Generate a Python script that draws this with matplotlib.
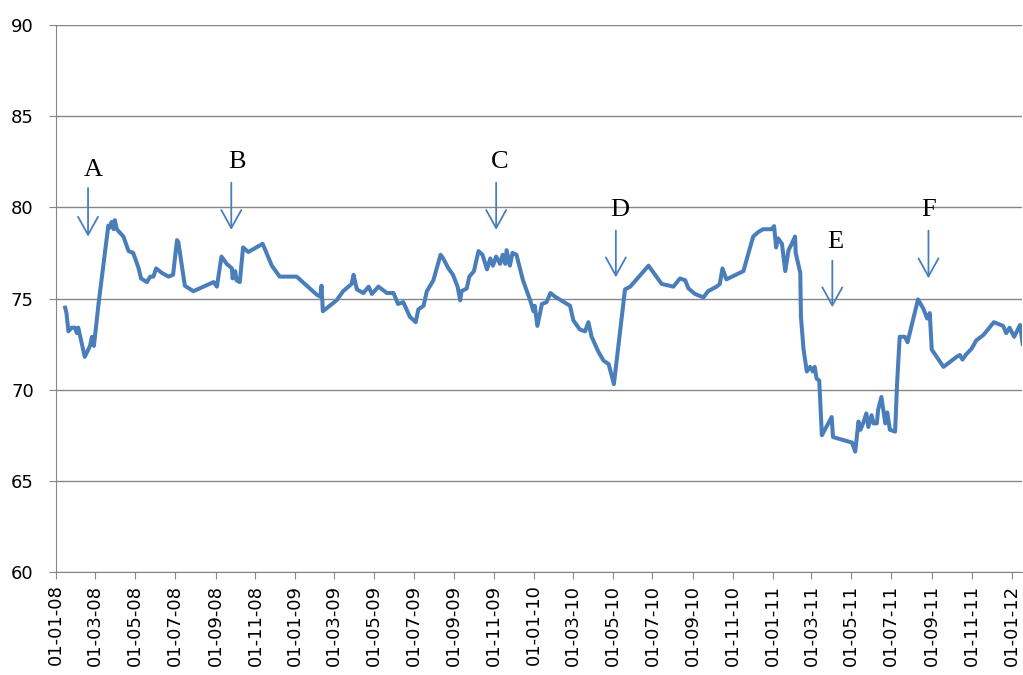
import pandas as pd
import matplotlib
matplotlib.use("Agg")
import matplotlib.pyplot as plt
import matplotlib.dates as mdates

# series (days counted from 01-01-2008)
days_since_2008 = [
    14, 16, 19, 24, 29, 32, 34, 44, 52, 55, 58, 65, 80, 83, 85, 88, 90, 93,
    103, 111, 118, 126, 130, 139, 144, 149, 153, 162, 172, 179, 185, 187, 197,
    210, 241, 246, 253, 261, 269, 270, 274, 276, 281, 286, 294, 316, 330, 342,
    368, 399, 404, 406, 408, 429, 439, 452, 455, 460, 470, 478, 483, 493, 506,
    516, 523, 531, 541, 550, 554, 562, 567, 577, 588, 592, 600, 607, 614, 618,
    620, 628, 632, 639, 646, 652, 659, 664, 668, 673, 679, 683, 687, 689, 694,
    698, 704, 714, 725, 730, 732, 736, 743, 750, 756, 763, 786, 791, 801, 809,
    814, 819, 829, 837, 845, 853, 870, 878, 906, 918, 926, 944, 954, 962, 967,
    977, 990, 997, 1010, 1015, 1019, 1025, 1051, 1066, 1074, 1081, 1094, 1098,
    1101, 1104, 1110, 1115, 1120, 1125, 1130, 1131, 1138, 1139, 1143, 1148,
    1153, 1157, 1160, 1163, 1167, 1171, 1186, 1188, 1217, 1222, 1227, 1230,
    1234, 1239, 1242, 1247, 1250, 1255, 1257, 1262, 1268, 1271, 1275, 1283,
    1286, 1290, 1298, 1302, 1318, 1326, 1332, 1336, 1339, 1357, 1377, 1382,
    1386, 1392, 1400, 1407, 1418, 1434, 1448, 1453, 1458, 1465, 1474, 1478,
]
values = [
    74.5, 74.2, 73.2, 73.4, 73.4, 73.1, 73.4, 71.8, 72.4, 72.9, 72.4, 74.7,
    79.0, 78.9, 79.2, 78.8, 79.3, 78.8, 78.4, 77.6, 77.5, 76.7, 76.1, 75.9,
    76.2, 76.2, 76.65, 76.4, 76.2, 76.3, 78.2, 78.1, 75.7, 75.4, 75.9, 75.65,
    77.3, 76.9, 76.65, 76.1, 76.5, 76.0, 75.9, 77.8, 77.55, 78.0, 76.8, 76.2,
    76.2, 75.2, 75.1, 75.7, 74.3, 74.9, 75.4, 75.8, 76.3, 75.5, 75.3, 75.65,
    75.25, 75.65, 75.3, 75.3, 74.7, 74.8, 74.0, 73.7, 74.4, 74.6, 75.4, 76.0,
    77.4, 77.2, 76.65, 76.3, 75.65, 74.9, 75.4, 75.55, 76.2, 76.5, 77.6, 77.4,
    76.6, 77.2, 76.8, 77.3, 76.9, 77.4, 76.9, 77.65, 76.8, 77.5, 77.4, 76.0,
    74.9, 74.3, 74.6, 73.5, 74.7, 74.8, 75.3, 75.1, 74.6, 73.8, 73.3, 73.2,
    73.7, 72.9, 72.1, 71.6, 71.4, 70.3, 75.5, 75.65, 76.8, 76.2, 75.8, 75.65,
    76.1, 76.0, 75.55, 75.25, 75.06, 75.4, 75.65, 75.8, 76.65, 76.05, 76.5,
    78.4, 78.65, 78.8, 78.8, 78.97, 77.8, 78.3, 78.0, 76.5, 77.65, 78.0, 78.4,
    77.5, 76.4, 74.0, 72.2, 71.0, 71.25, 71.0, 71.25, 70.6, 70.5, 67.5, 68.5,
    67.4, 67.1, 66.6, 68.25, 67.8, 68.15, 68.7, 67.95, 68.6, 68.15, 68.15,
    68.9, 69.6, 68.15, 68.75, 67.8, 67.7, 70.35, 72.9, 72.9, 72.6, 74.95,
    74.45, 73.9, 74.2, 72.2, 71.25, 71.8, 71.9, 71.65, 71.95, 72.25, 72.7,
    73.0, 73.7, 73.5, 73.1, 73.4, 72.9, 73.55, 72.5,
]

# event markers
event_labels = ["A", "B", "C", "D", "E", "F"]
event_dates = ["2008-02-19", "2008-09-25", "2009-11-04", "2010-05-06", "2011-04-02", "2011-08-27"]
label_dates = ["2008-02-27", "2008-10-03", "2009-11-10", "2010-05-12", "2011-04-07", "2011-08-27"]
arrow_top = [81.06, 81.35, 81.35, 78.72, 77.07, 78.72]
arrow_tip = [78.39, 78.76, 78.76, 76.16, 74.52, 76.11]
label_y = [82.05, 82.5, 82.5, 79.85, 78.11, 79.85]

start = pd.Timestamp("2008-01-01")
dates = start + pd.to_timedelta(days_since_2008, unit="D")

grid_col = "#868686"
line_col = "#4a7ebb"

fig = plt.figure(figsize=(10.23, 6.75), dpi=100)
ax = fig.add_axes([56 / 1023, 103 / 675, 966 / 1023, 547 / 675])

ax.plot(dates, values, color=line_col, lw=2.9, solid_joinstyle="round", zorder=3)

for lab, d, ld, yt, yp, ly in zip(event_labels, event_dates, label_dates,
                                  arrow_top, arrow_tip, label_y):
    ax.annotate("", xy=(pd.Timestamp(d), yp), xytext=(pd.Timestamp(d), yt),
                arrowprops=dict(arrowstyle="->,head_length=0.65,head_width=0.36",
                                color=line_col, lw=1.3, mutation_scale=20,
                                shrinkA=0, shrinkB=0))
    ax.text(pd.Timestamp(ld), ly, lab, ha="center", va="center",
            fontsize=19, family="Liberation Serif", color="black")

ax.set_ylim(60, 90)
ax.set_yticks(range(60, 91, 5))
ax.set_xlim(start, start + pd.Timedelta(days=1477))
ax.xaxis.set_major_locator(mdates.MonthLocator(bymonth=[1, 3, 5, 7, 9, 11]))
ax.xaxis.set_major_formatter(mdates.DateFormatter("%d-%m-%y"))

ax.grid(axis="y", color=grid_col, lw=1)
ax.set_axisbelow(True)
for s in ["top", "right"]:
    ax.spines[s].set_visible(False)
ax.spines["left"].set_color(grid_col)
ax.spines["bottom"].set_color(grid_col)
ax.tick_params(axis="y", length=5, color=grid_col, labelsize=13, pad=11)
ax.tick_params(axis="x", length=5, color=grid_col, labelsize=13, pad=4,
               labelrotation=90)

fig.savefig("out.png", dpi=100)
